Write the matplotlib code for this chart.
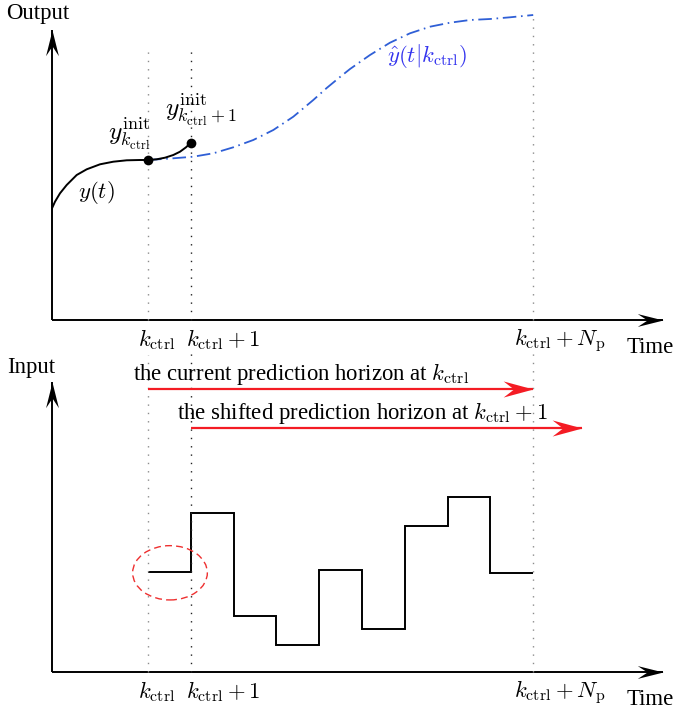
import numpy as np
import matplotlib
matplotlib.use("Agg")
import matplotlib.pyplot as plt
from matplotlib.path import Path
from matplotlib.patches import Ellipse

plt.rcParams['font.family'] = ['Liberation Serif', 'DejaVu Serif']
plt.rcParams['mathtext.fontset'] = 'cm'

# ---------------- data ----------------
k_ctrl = 0
N_p = 9
step_edges = np.arange(k_ctrl, k_ctrl + N_p + 1)
u_values = [10.0, 15.9, 5.6, 2.7, 10.2, 4.3, 14.6, 17.5, 9.9]

# measured output y(t) up to k_ctrl
t_past = [-2.243, -2.173, -2.056, -1.900, -1.666, -1.432, -1.121, -0.811, -0.498, -0.187, 0.0]
y_past = [11.17, 11.83, 12.67, 13.5, 14.5, 15.07, 15.57, 15.83, 15.97, 16.0, 16.0]

# real output between k_ctrl and k_ctrl+1
t_next = [0.0, 0.203, 0.397, 0.591, 0.748, 0.888, 1.0]
y_next = [16.0, 16.07, 16.23, 16.5, 16.83, 17.27, 17.73]

# predicted output
t_pred = [0.0, 0.591, 1.058, 1.526, 1.993, 2.460, 2.928, 3.395, 3.862, 4.175,
          4.486, 4.720, 5.187, 5.654, 6.121, 6.589, 7.056, 7.523, 7.991, 8.458, 9.0]
y_pred = [16.0, 16.17, 16.33, 16.67, 17.27, 18.0, 19.0, 20.33, 22.0, 23.2,
          24.3, 25.1, 26.5, 27.73, 28.67, 29.33, 29.73, 30.0, 30.1, 30.27, 30.5]

t_origin = -2.243
t_tip = 12.03
y_tip = 29.0

tick_pos = [k_ctrl, k_ctrl + 1, k_ctrl + N_p]
tick_labels = [r'$k_{\rm ctrl}$', r'$k_{\rm ctrl}+1$', r'$k_{\rm ctrl}+N_{\rm p}$']
tick_offsets = [-0.23, -0.12, -0.45]

# ---------------- styling ----------------
W, H = 674, 715
fig = plt.figure(figsize=(W / 100, H / 100), dpi=100)
FS = 16.4

def px_axes(x0, x1, ybot, ytop):
    return fig.add_axes([x0 / W, 1 - ybot / H, (x1 - x0) / W, (ybot - ytop) / H])

ax_top = px_axes(52, 670, 320, 10)
ax_bot = px_axes(52, 670, 672, 362)
for ax in (ax_top, ax_bot):
    ax.set_xlim(t_origin, t_origin + 618 / 42.8)
    ax.set_ylim(0, 31)
    ax.axis('off')

right_head = Path([(0, 0), (-1, 0.25), (-0.62, 0), (-1, -0.25), (0, 0)],
                  [Path.MOVETO, Path.LINETO, Path.LINETO, Path.LINETO, Path.CLOSEPOLY])
up_head = Path([(0, 0), (0.25, -1), (0, -0.62), (-0.25, -1), (0, 0)],
               [Path.MOVETO, Path.LINETO, Path.LINETO, Path.LINETO, Path.CLOSEPOLY])
red_head = Path([(0, 0), (-1, 0.27), (-0.65, 0), (-1, -0.27), (0, 0)],
                [Path.MOVETO, Path.LINETO, Path.LINETO, Path.LINETO, Path.CLOSEPOLY])

def axes_arrows(ax):
    ax.plot([t_origin, t_tip], [0, 0], color='black', lw=1.4, solid_capstyle='butt', clip_on=False)
    ax.plot([t_tip], [0], marker=right_head, ms=37, color='black', mew=0, clip_on=False)
    ax.plot([t_origin, t_origin], [0, y_tip], color='black', lw=1.4, solid_capstyle='butt', clip_on=False)
    ax.plot([t_origin], [y_tip], marker=up_head, ms=37, color='black', mew=0, clip_on=False)

def ticks(ax):
    for p, lab, off in zip(tick_pos, tick_labels, tick_offsets):
        ax.text(p + off, -2.6, lab, fontsize=FS, ha='left', va='baseline', clip_on=False)
    ax.text(11.19, -3.3, 'Time', fontsize=FS, ha='left', va='baseline', clip_on=False)

# ---------------- top panel ----------------
axes_arrows(ax_top)
ticks(ax_top)
ax_top.text(-3.318, 30.7, 'Output', fontsize=FS, ha='left', va='center', clip_on=False)

dot_gray = '#8c8c8c'
ax_top.plot([k_ctrl, k_ctrl], [0, 27.0], color=dot_gray, lw=1.0, ls=(0, (1, 5)), clip_on=False)
ax_top.plot([k_ctrl + 1, k_ctrl + 1], [0, 27.0], color='#222222', lw=1.0, ls=(0, (1, 5)), clip_on=False)
ax_top.plot([k_ctrl + N_p, k_ctrl + N_p], [0, 30.7], color=dot_gray, lw=1.0, ls=(0, (1, 5)), clip_on=False)

ax_top.plot(t_pred, y_pred, color='#2f5fd6', lw=1.3, ls=(0, (7.5, 2.6, 0.9, 2.6)),
            solid_joinstyle='round', dash_joinstyle='round', clip_on=False)
ax_top.plot(t_past, y_past, color='black', lw=1.4, solid_joinstyle='round')
ax_top.plot(t_next, y_next, color='black', lw=1.4, solid_joinstyle='round')
ax_top.plot([t_next[0], t_next[-1]], [y_next[0], y_next[-1]], 'o', color='black', ms=7, mew=0)

ax_top.text(-1.215, 12.8, r'$y(t)$', fontsize=FS, ha='center', va='center')
ax_top.text(-0.432, 18.65, r'$y_{k_{\rm ctrl}}^{\rm init}$', fontsize=18.5, ha='center', va='center')
ax_top.text(1.238, 21.05, r'$y_{k_{\rm ctrl}+1}^{\rm init}$', fontsize=18.5, ha='center', va='center')
ax_top.text(6.52, 26.35, r'$\hat{y}(t|k_{\rm ctrl})$', fontsize=FS, ha='center', va='center',
            color='#3333ee')

# ---------------- bottom panel ----------------
axes_arrows(ax_bot)
ticks(ax_bot)
ax_bot.text(-3.30, 30.4, 'Input', fontsize=FS, ha='left', va='center', clip_on=False)

ax_bot.plot([k_ctrl, k_ctrl], [0, 31.7], color=dot_gray, lw=1.0, ls=(0, (1, 5)), clip_on=False)
ax_bot.plot([k_ctrl + 1, k_ctrl + 1], [0, 32.4], color='#222222', lw=1.0, ls=(0, (1, 5)), clip_on=False)
ax_bot.plot([k_ctrl + N_p, k_ctrl + N_p], [0, 32.4], color=dot_gray, lw=1.0, ls=(0, (1, 5)), clip_on=False)

ax_bot.stairs(u_values, step_edges, baseline=None, color='black', lw=1.4)

red = '#f41c24'
ax_bot.plot([k_ctrl, k_ctrl + N_p], [28.27, 28.27], color=red, lw=1.6, solid_capstyle='butt', clip_on=False)
ax_bot.plot([k_ctrl + N_p], [28.27], marker=red_head, ms=43, color=red, mew=0, clip_on=False)
ax_bot.plot([k_ctrl + 1, 10.15], [24.37, 24.37], color=red, lw=1.6, solid_capstyle='butt', clip_on=False)
ax_bot.plot([10.15], [24.37], marker=red_head, ms=43, color=red, mew=0, clip_on=False)

ax_bot.text(-0.35, 29.2, r'the current prediction horizon at $k_{\rm ctrl}$', fontsize=FS,
            ha='left', va='baseline', clip_on=False)
ax_bot.text(0.68, 25.3, r'the shifted prediction horizon at $k_{\rm ctrl}+1$', fontsize=FS,
            ha='left', va='baseline', clip_on=False)

ax_bot.add_patch(Ellipse((0.514, 9.92), 1.745, 5.43, fill=False, edgecolor='#ee3030',
                         lw=1.0, ls=(0, (5, 3))))

fig.savefig('out.png', dpi=100)
